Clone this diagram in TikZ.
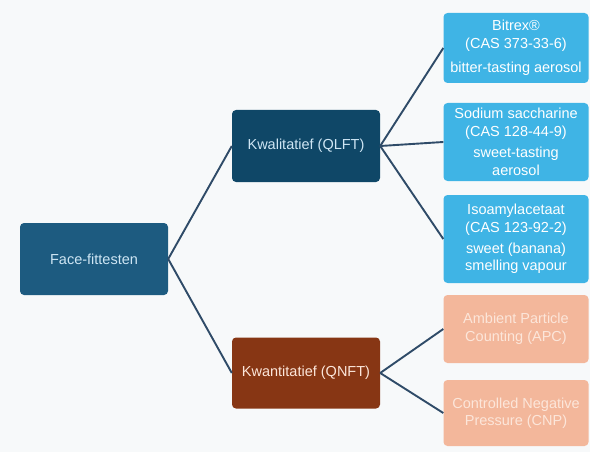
\documentclass[tikz,border=0pt]{standalone}
\usepackage{fontspec}
\setmainfont{Liberation Sans}
\definecolor{bgc}{HTML}{F7F9FA}
\definecolor{rootc}{HTML}{1D5B80}
\definecolor{qlftc}{HTML}{0F4767}
\definecolor{qnftc}{HTML}{873614}
\definecolor{leafb}{HTML}{3FB4E5}
\definecolor{leafs}{HTML}{F3B79B}
\definecolor{linec}{HTML}{2F4B68}
\definecolor{txtb}{HTML}{CFE6F4}
\definecolor{txts}{HTML}{FCE6DA}
\begin{document}
\begin{tikzpicture}[x=1pt,y=-1pt,
  box/.style={rectangle,rounded corners=4pt,inner sep=1pt,align=center,
    font=\fontsize{14.5}{17.5}\selectfont},
  mid/.style={box,minimum width=148pt,minimum height=72pt},
  leaf/.style={box,minimum width=145pt,fill=leafb,text=white},
  sleaf/.style={box,minimum width=145pt,fill=leafs,text=txts},
  conn/.style={draw=linec,line width=1.9pt}]
\fill[bgc] (0,0) rectangle (590,452);
\useasboundingbox (0,0) rectangle (590,452);
\node[mid,fill=rootc,text=txtb] (root) at (94,259) {Face-fittesten};
\node[mid,fill=qlftc,text=txtb] (qlft) at (306,146) {Kwalitatief (QLFT)};
\node[mid,fill=qnftc,text=txts,minimum height=71pt] (qnft) at (306,373) {Kwantitatief (QNFT)};
\node[leaf,minimum height=70pt] (bit) at (516,48) {Bitrex®\\(CAS 373-33-6)\\[7pt]bitter-tasting aerosol};
\node[leaf,minimum height=78pt] (sod) at (516,142) {Sodium saccharine\\(CAS 128-44-9)\\[4pt]sweet-tasting\\aerosol};
\node[leaf,minimum height=88pt] (iso) at (516,239) {Isoamylacetaat\\(CAS 123-92-2)\\[4pt]sweet (banana)\\smelling vapour};
\node[sleaf,minimum height=68pt] (apc) at (516,329) {Ambient Particle\\Counting (APC)};
\node[sleaf,minimum height=66pt] (cnp) at (516,413) {Controlled Negative\\Pressure (CNP)};
\draw[conn] (root.east) -- (qlft.west);
\draw[conn] (root.east) -- (qnft.west);
\draw[conn] (qlft.east) -- (bit.west);
\draw[conn] (qlft.east) -- (sod.west);
\draw[conn] (qlft.east) -- (iso.west);
\draw[conn] (qnft.east) -- (apc.west);
\draw[conn] (qnft.east) -- (cnp.west);
\end{tikzpicture}
\end{document}
